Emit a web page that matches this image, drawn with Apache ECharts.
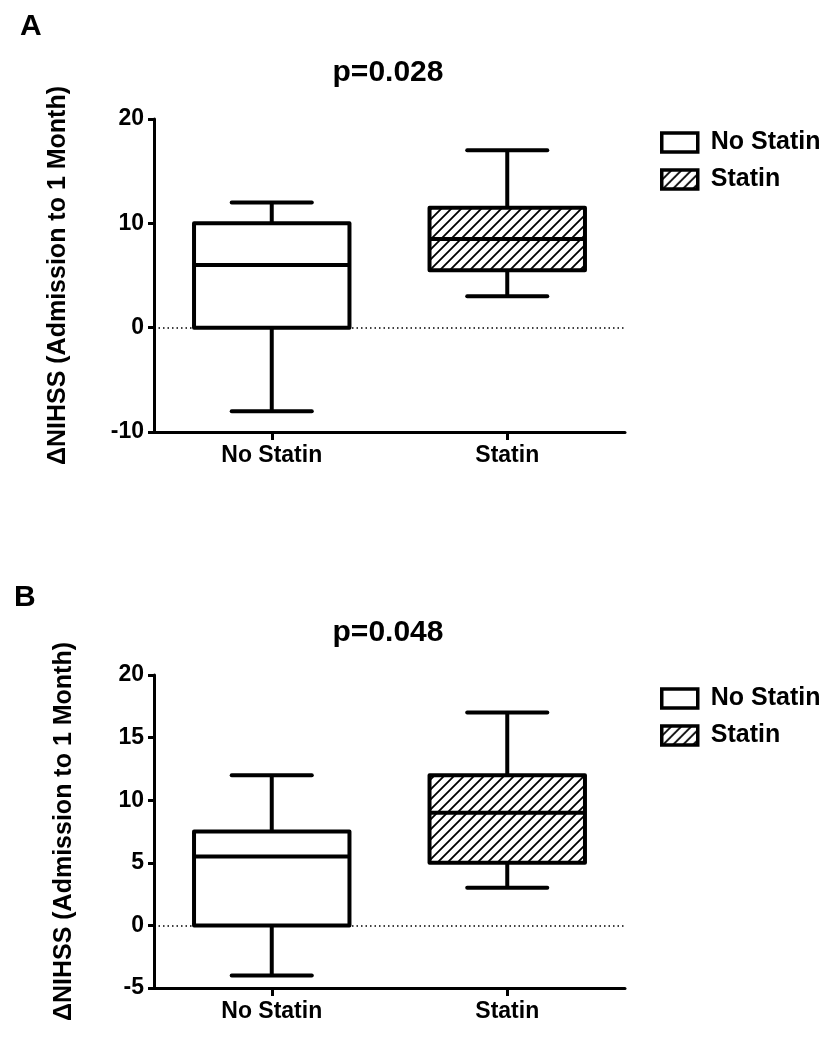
<!DOCTYPE html>
<html>
<head>
<meta charset="utf-8">
<script src="https://cdn.jsdelivr.net/npm/echarts@6/dist/echarts.min.js"></script>
<style>
html,body{margin:0;padding:0;background:#fff;}
#chart{width:837px;height:1050px;}
</style>
</head>
<body>
<div id="chart"></div>
<script>
// ---- data ----
const categories = ['No Statin', 'Statin'];
// [min, Q1, median, Q3, max]
const panelA_noStatin = [-8, 0, 6, 10, 12];
const panelA_statin = [3, 5.5, 8.5, 11.5, 17];
const panelB_noStatin = [-4, 0, 5.5, 7.5, 12];
const panelB_statin = [3, 5, 9, 12, 17];
const panelTitles = ['p=0.028', 'p=0.048'];
const panelLetters = ['A', 'B'];
const yAxisA = { min: -10, max: 20, interval: 10 };
const yAxisB = { min: -5, max: 20, interval: 5 };
const yName = '\u0394NIHSS (Admission to 1 Month)';

const FONT = '"Liberation Sans", Arial, Helvetica, sans-serif';

// hatch pattern
function makeHatch() {
  const c = document.createElement('canvas');
  const s = 10;
  c.width = s; c.height = s;
  const ctx = c.getContext('2d');
  ctx.fillStyle = '#fff';
  ctx.fillRect(0, 0, s, s);
  ctx.strokeStyle = '#000';
  ctx.lineWidth = 1.8;
  ctx.beginPath();
  ctx.moveTo(-2, s + 2); ctx.lineTo(s + 2, -2);
  ctx.moveTo(-2, 2); ctx.lineTo(2, -2);
  ctx.moveTo(s - 2, s + 2); ctx.lineTo(s + 2, s - 2);
  ctx.stroke();
  return c;
}
const hatch = { image: makeHatch(), repeat: 'repeat' };

function renderer(fill) {
  return function (params, api) {
    const x = api.value(0);
    const pMin = api.coord([x, api.value(1)]);
    const pQ1 = api.coord([x, api.value(2)]);
    const pMed = api.coord([x, api.value(3)]);
    const pQ3 = api.coord([x, api.value(4)]);
    const pMax = api.coord([x, api.value(5)]);
    const band = api.size([1, 0])[0];
    const bw = band * 0.66;
    const cw = band * 0.34;
    const cx = pMed[0];
    const lw = 4;
    const ls = { stroke: '#000', lineWidth: lw, fill: null };
    return {
      type: 'group',
      children: [
        { type: 'line', shape: { x1: cx, y1: pQ3[1], x2: cx, y2: pMax[1] }, style: ls },
        { type: 'line', shape: { x1: cx, y1: pQ1[1], x2: cx, y2: pMin[1] }, style: ls },
        { type: 'line', shape: { x1: cx - cw / 2, y1: pMax[1], x2: cx + cw / 2, y2: pMax[1] }, style: Object.assign({ lineCap: 'round' }, ls) },
        { type: 'line', shape: { x1: cx - cw / 2, y1: pMin[1], x2: cx + cw / 2, y2: pMin[1] }, style: Object.assign({ lineCap: 'round' }, ls) },
        { type: 'rect', shape: { x: cx - bw / 2, y: pQ3[1], width: bw, height: pQ1[1] - pQ3[1] },
          style: { fill: fill, stroke: '#000', lineWidth: lw, lineJoin: 'round' } },
        { type: 'line', shape: { x1: cx - bw / 2, y1: pMed[1], x2: cx + bw / 2, y2: pMed[1] }, style: ls }
      ]
    };
  };
}

function item(idx, arr) { return [idx].concat(arr); }

const chart = echarts.init(document.getElementById('chart'), null, { renderer: 'canvas' });

const grids = [
  { left: 154, top: 119, width: 471, height: 313 },
  { left: 154, top: 675, width: 471, height: 313 }
];

function xAxis(gi) {
  return {
    type: 'category', gridIndex: gi, data: categories, boundaryGap: true,
    axisLine: { onZero: false, lineStyle: { color: '#000', width: 3 } },
    axisTick: { show: true, alignWithLabel: true, interval: 0, length: 8, lineStyle: { color: '#000', width: 3 } },
    axisLabel: { color: '#000', fontSize: 23, fontWeight: 'bold', fontFamily: FONT, margin: 12 },
    splitLine: { show: false }
  };
}
function yAxis(gi, cfg, gap) {
  return {
    type: 'value', gridIndex: gi, min: cfg.min, max: cfg.max, interval: cfg.interval,
    name: yName, nameLocation: 'middle', nameGap: gap, nameRotate: 90,
    nameTextStyle: { color: '#000', fontSize: 25, fontWeight: 'bold', fontFamily: FONT },
    axisLine: { show: true, lineStyle: { color: '#000', width: 3 } },
    axisTick: { show: true, length: 6, lineStyle: { color: '#000', width: 3 } },
    axisLabel: { color: '#000', fontSize: 23, fontWeight: 'bold', fontFamily: FONT, margin: 10 },
    splitLine: { show: false }
  };
}

const zeroLine = {
  silent: true, symbol: 'none',
  label: { show: false },
  lineStyle: { type: [1.5, 3], color: '#000', width: 1.5 },
  emphasis: { disabled: true },
  data: [{ yAxis: 0 }]
};

function series(name, gi, idx, arr, fill, withZero) {
  const s = {
    type: 'custom', name: name, xAxisIndex: gi, yAxisIndex: gi,
    renderItem: renderer(fill),
    encode: { x: 0, y: [1, 2, 3, 4, 5] },
    itemStyle: { color: fill === '#fff' ? '#fff' : hatch, borderColor: '#000' },
    data: [item(idx, arr)],
    silent: true
  };
  if (withZero) { s.markLine = zeroLine; }
  return s;
}

function legend(top) {
  return {
    orient: 'vertical', left: 655, top: top, itemWidth: 36, itemHeight: 19, itemGap: 12,
    icon: 'rect', selectedMode: false,
    textStyle: { color: '#000', fontSize: 25, fontWeight: 'bold', fontFamily: FONT, padding: [0, 0, 0, 8] },
    data: [
      { name: 'No Statin', itemStyle: { color: '#fff', borderColor: '#000', borderWidth: 3.5 } },
      { name: 'Statin', itemStyle: { color: hatch, borderColor: '#000', borderWidth: 3.5 } }
    ]
  };
}

const option = {
  backgroundColor: '#fff',
  animation: false,
  grid: grids,
  xAxis: [xAxis(0), xAxis(1)],
  yAxis: [yAxis(0, yAxisA, 83), yAxis(1, yAxisB, 77)],
  legend: [legend(125), legend(681)],
  series: [
    series('No Statin', 0, 0, panelA_noStatin, '#fff', true),
    series('Statin', 0, 1, panelA_statin, hatch, false),
    series('No Statin', 1, 0, panelB_noStatin, '#fff', true),
    series('Statin', 1, 1, panelB_statin, hatch, false)
  ],
  graphic: [
    { type: 'text', x: 388, y: 73, style: { text: panelTitles[0], fill: '#000', font: 'bold 30px ' + FONT, align: 'center', verticalAlign: 'middle' } },
    { type: 'text', x: 388, y: 633, style: { text: panelTitles[1], fill: '#000', font: 'bold 30px ' + FONT, align: 'center', verticalAlign: 'middle' } },
    { type: 'text', x: 20, y: 27, style: { text: panelLetters[0], fill: '#000', font: 'bold 30px ' + FONT, align: 'left', verticalAlign: 'middle' } },
    { type: 'text', x: 14, y: 598, style: { text: panelLetters[1], fill: '#000', font: 'bold 30px ' + FONT, align: 'left', verticalAlign: 'middle' } }
  ]
};
chart.setOption(option);
</script>
</body>
</html>
